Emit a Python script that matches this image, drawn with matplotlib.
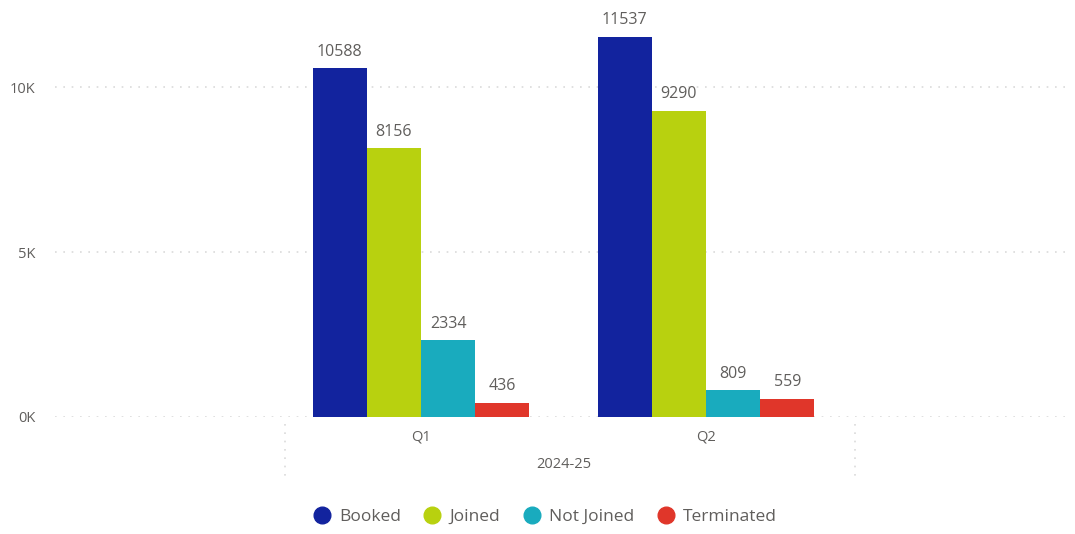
import matplotlib
matplotlib.use("Agg")
import numpy as np
import matplotlib.pyplot as plt
from matplotlib.lines import Line2D
import matplotlib.transforms as mtransforms

plt.rcParams['font.family'] = ['Open Sans', 'DejaVu Sans']

quarters = ['Q1', 'Q2']
year_label = '2024-25'
series = ['Booked', 'Joined', 'Not Joined', 'Terminated']
booked = [10588, 11537]
joined = [8156, 9290]
not_joined = [2334, 809]
terminated = [436, 559]
colors = ['#12239E', '#B8D10F', '#19ABBE', '#E0362A']
yticks = [0, 5000, 10000]
ytick_labels = ['0K', '5K', '10K']

values = [booked, joined, not_joined, terminated]
text_col = '#605E5C'
grid_col = '#DADADA'

fig = plt.figure(figsize=(10.75, 5.34), dpi=100)
ax = fig.add_axes([55 / 1075, 117 / 534, 1015 / 1075, 417 / 534])

x = np.arange(len(quarters))
w = 0.19
for i, (name, vals) in enumerate(zip(series, values)):
    pos = x + (i - 1.5) * w
    ax.bar(pos, vals, width=w, color=colors[i], label=name, zorder=3)
    for p, v in zip(pos, vals):
        ax.annotate(str(v), (p, v), xytext=(0, 6), textcoords='offset points',
                    ha='center', va='bottom', fontsize=11.5, color=text_col)

ax.set_xlim(-1.284, 2.277)
ax.set_ylim(0, 12650)
ax.set_yticks(yticks)
ax.set_yticklabels(ytick_labels, fontsize=10.5, color=text_col)
ax.set_xticks([])
ax.tick_params(axis='y', length=0, pad=14)
for s in ax.spines.values():
    s.set_visible(False)
ax.grid(axis='y', color=grid_col, linestyle=(0, (1, 4)), linewidth=1.2, zorder=0)

# hierarchical category labels
trans = mtransforms.blended_transform_factory(ax.transData, ax.transAxes)
for xi, q in zip(x, quarters):
    ax.text(xi, -20 / 417, q, transform=trans, ha='center', va='center',
            fontsize=10.5, color=text_col)
ax.text(0.5, -48 / 417, year_label, transform=trans, ha='center', va='center',
        fontsize=10.5, color=text_col)
for xe in [-0.477, 1.523]:
    ax.add_line(Line2D([xe, xe], [-7 / 417, -61 / 417], transform=trans,
                       color=grid_col, linestyle=(0, (1, 4)), linewidth=1.2,
                       clip_on=False))

handles = [Line2D([], [], marker='o', linestyle='none', markersize=12,
                  markerfacecolor=c, markeredgecolor=c) for c in colors]
fig.legend(handles, series, loc='center', bbox_to_anchor=(0.503, 1 - 517 / 534),
           ncol=4, frameon=False, fontsize=12.5, handletextpad=0.0,
           columnspacing=0.8, labelcolor=text_col)

fig.savefig('out.png', dpi=100)
